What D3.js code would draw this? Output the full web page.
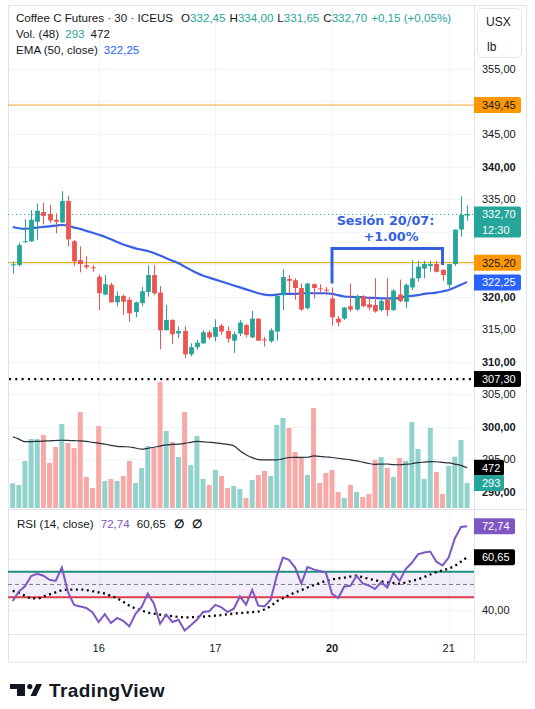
<!DOCTYPE html>
<html>
<head>
<meta charset="utf-8">
<script src="https://cdn.jsdelivr.net/npm/d3@7"></script>
<style>
  body { margin: 0; background: #fff; }
  svg { display: block; font-family: "Liberation Sans", Arial, sans-serif; }
</style>
</head>
<body>
<div id="chart"></div>
<script>
// ---- datos (velas de 30 min) ----
const opens  = [324.85,324.85,328.4,328.5,331.5,333.0,332.7,331.8,331.4,334.7,328.5,325.6,324.8,324.5,323.05,320.3,321.8,319.1,320.1,319.5,317.6,319.0,320.7,323.3,320.6,314.8,316.4,314.3,314.7,311.1,312.2,312.8,314.5,313.8,315.5,314.7,313.2,314.3,315.6,313.7,316.6,313.4,313.1,314.6,320.2,322.7,322.5,321.3,318.2,321.9,321.25,321.05,319.7,316.6,316.6,318.5,318.0,320.0,318.8,318.7,317.9,319.5,317.9,320.3,319.2,321.4,322.8,324.3,324.7,325.0,324.1,321.8,325.0,330.3,332.45];
const highs  = [325.4,328.3,331.9,333.3,334.3,334.4,334.1,332.8,336.2,335.5,328.7,327.7,326.2,324.8,323.4,323.3,322.1,320.8,320.3,319.9,319.2,321.5,324.8,324.8,321.6,318.7,316.5,315.4,315.4,312.8,313.3,314.8,314.8,316.5,315.8,315.4,314.6,316.4,315.8,317.8,316.6,313.8,315.1,320.2,324.2,323.3,322.8,322.0,322.1,322.0,321.9,321.5,321.4,317.0,318.4,322.0,320.3,320.2,320.0,322.8,319.7,322.8,321.1,322.6,322.0,325.6,325.5,325.5,325.5,325.5,324.2,325.0,330.3,335.4,334.0];
const lows   = [323.5,324.6,328.3,328.4,328.7,331.1,331.3,329.7,331.3,327.7,324.7,323.7,324.2,323.8,317.9,320.2,319.1,318.5,317.2,316.1,316.8,318.5,320.0,320.2,311.9,314.8,312.7,313.6,310.5,310.8,311.8,312.7,313.4,313.1,314.1,312.9,311.3,313.9,313.7,313.6,313.2,312.3,312.9,313.2,317.9,320.5,319.5,317.8,318.0,319.7,320.5,320.2,315.5,315.4,316.4,317.7,317.8,318.4,317.9,317.5,317.7,317.0,317.8,319.1,318.2,321.0,322.3,322.8,323.8,323.7,322.4,321.3,324.7,329.2,331.65];
const closes = [324.95,327.9,328.5,331.8,333.2,332.4,331.7,331.5,334.7,328.8,325.4,325.0,324.5,324.4,320.5,321.9,319.1,320.1,319.2,317.4,319.1,320.8,323.3,320.5,314.8,316.4,314.2,314.7,311.1,312.2,312.9,314.5,313.7,315.3,314.6,313.5,314.2,316.0,314.1,316.6,313.2,313.3,314.8,320.1,323.0,322.4,321.3,318.0,322.0,321.3,321.15,320.95,316.8,316.0,318.3,318.0,320.1,318.5,318.3,317.7,319.3,317.9,320.9,319.3,321.8,322.8,324.6,325.0,325.0,323.8,323.3,325.0,330.3,332.55,332.70];
const volumes = [290,270,551,809,809,856,528,715,985,762,703,1125,363,234,961,317,340,317,375,551,293,469,727,703,1477,903,774,598,1125,504,844,340,270,446,375,234,258,223,117,328,387,434,375,973,1055,938,656,586,387,1172,293,410,446,188,117,270,188,129,164,563,598,469,363,586,551,1008,692,340,938,422,164,492,602,797,293];
const volMa = [835,808,777,778,781,784,788,791,794,792,789,786,780,770,760,748,735,723,719,715,703,690,700,712,726,740,745,749,758,770,781,776,770,764,755,745,730,670,625,590,568,563,563,563,576,592,594,594,595,610,606,598,592,583,574,565,552,537,522,512,514,516,508,507,513,519,531,538,544,542,535,528,515,500,472];
const ema = [330.7,330.5,330.4,330.5,330.6,330.7,330.8,330.9,331.0,330.9,330.6,330.4,330.1,329.8,329.5,329.2,328.8,328.4,328.0,327.7,327.4,327.2,327.0,326.7,326.3,325.9,325.5,325.1,324.6,324.1,323.6,323.2,322.9,322.6,322.3,322.0,321.7,321.4,321.1,320.8,320.5,320.3,320.2,320.3,320.4,320.4,320.4,320.5,320.5,320.5,320.5,320.5,320.4,320.2,320.0,319.95,319.9,319.9,319.8,319.8,319.7,319.7,319.7,319.8,320.0,320.1,320.2,320.4,320.5,320.6,320.8,321.0,321.4,321.8,322.25];
const rsi = [43.5,47.2,49.3,53.3,54.2,53.4,51.8,51.4,56.6,47.0,42.0,41.4,40.8,39.0,35.3,38.4,34.9,36.9,35.8,33.6,38.5,41.2,46.4,42.5,34.6,38.2,35.3,36.2,32.0,34.0,36.2,39.2,39.5,42.0,41.0,39.2,40.5,45.3,42.1,47.9,41.7,41.4,44.0,53.3,60.5,59.6,56.6,50.3,56.8,55.9,55.3,54.7,46.3,44.7,49.2,49.5,53.4,50.4,49.6,48.2,50.9,48.8,54.4,51.4,56.0,58.5,61.8,62.5,62.9,58.9,57.4,60.5,68.0,72.5,72.74];
const rsiMa = [47.5,46.7,45.6,44.6,44.5,45.3,46.1,46.9,47.7,48.0,48.0,48.0,47.8,47.4,46.9,46.4,45.5,44.6,43.2,41.7,40.6,39.8,39.0,38.6,38.2,37.9,37.6,37.3,37.1,37.2,37.3,37.4,37.6,37.8,38.0,38.3,38.6,38.8,39.0,39.2,39.4,40.2,41.5,43.4,44.6,45.8,46.9,47.8,48.8,49.7,50.5,51.4,51.9,52.4,52.7,53.1,53.4,52.8,52.2,51.7,51.2,50.8,50.6,50.3,50.8,51.4,52.0,52.9,53.9,54.8,55.5,56.2,57.3,58.9,60.65];

const dayStarts = [14, 33, 52, 71];
const dayLabels = ["16", "17", "20", "21"];
// 350, 330 y 325 quedan tapados por las etiquetas de color
const priceTicks = [290,295,300,305,310,315,320,335,340,345,355];
const gridTicks = [295,300,305,310,315,320,325,330,335,340,345,350,355];
const rsiTicks = [40, 60];
const rsiBands = [55, 50, 45];

const lastPrice = 332.70, alertHigh = 349.45, alertLow = 325.20, stopLevel = 307.30;
const emaLast = 322.25, volLast = 293, volMaLast = 472, rsiLast = 72.74, rsiMaLast = 60.65;

// anotacion "Sesion 20/07"
const annoBars = [52, 70];
const annoPrices = [322.0, 327.4, 324.85];

// ---- layout ----
const W = 535, H = 709;
const L = 8, R = 474, AX = 526;
const mainTop = 6, mainBot = 509, rsiTop = 510, rsiBot = 634, bottom = 662;

const up = "#26a69a", down = "#ef5350";
const upVol = "#92d2cc", downVol = "#f7a9a7";

const x = d3.scaleLinear().domain([0, 74]).range([12.7, 467.1]);
const y = d3.scaleLinear().domain([290, 355]).range([491.5, 69]);
const yv = d3.scaleLinear().domain([0, 1477]).range([508, 382]);
const yr = d3.scaleLinear().domain([40, 80]).range([610, 507.8]);

const fmt = v => d3.format(".2f")(v).replace(".", ",");

const svg = d3.select("#chart").append("svg").attr("width", W).attr("height", H);
svg.append("rect").attr("width", W).attr("height", H).attr("fill", "#fff");

const defs = svg.append("defs");
defs.append("clipPath").attr("id", "clipMain").append("rect")
  .attr("x", L).attr("y", mainTop).attr("width", R - L).attr("height", mainBot - mainTop);
defs.append("clipPath").attr("id", "clipRsi").append("rect")
  .attr("x", L).attr("y", rsiTop).attr("width", R - L).attr("height", rsiBot - rsiTop);

// grid
const grid = svg.append("g").attr("stroke", "#f0f3fa").attr("stroke-width", 1);
gridTicks.forEach(p => {
  const yy = Math.round(y(p)) + 0.5;
  grid.append("line").attr("x1", L).attr("x2", R).attr("y1", yy).attr("y2", yy);
});
rsiTicks.forEach(v => {
  const yy = Math.round(yr(v)) + 0.5;
  grid.append("line").attr("x1", L).attr("x2", R).attr("y1", yy).attr("y2", yy);
});
dayStarts.forEach(i => {
  const xx = Math.round(x(i)) + 0.5;
  grid.append("line").attr("x1", xx).attr("x2", xx).attr("y1", mainTop).attr("y2", rsiBot);
});

// marco / separadores
const frame = svg.append("g").attr("stroke", "#e0e3eb").attr("fill", "none");
frame.append("rect").attr("x", L + 0.5).attr("y", mainTop - 0.5).attr("width", AX - L).attr("height", bottom - mainTop + 0.5);
frame.append("line").attr("x1", R + 0.5).attr("x2", R + 0.5).attr("y1", mainTop).attr("y2", bottom);
frame.append("line").attr("x1", L).attr("x2", AX).attr("y1", mainBot + 0.5).attr("y2", mainBot + 0.5);
frame.append("line").attr("x1", L).attr("x2", AX).attr("y1", rsiBot + 0.5).attr("y2", rsiBot + 0.5);

const main = svg.append("g").attr("clip-path", "url(#clipMain)");

// volumen
main.append("g").selectAll("rect").data(volumes).join("rect")
  .attr("x", (d, i) => x(i) - 2.5)
  .attr("width", 5)
  .attr("y", d => yv(d))
  .attr("height", d => yv(0) - yv(d))
  .attr("fill", (d, i) => closes[i] >= opens[i] ? upVol : downVol);

main.append("path").datum(volMa)
  .attr("fill", "none").attr("stroke", "#2a2e39").attr("stroke-width", 1.2)
  .attr("d", d3.line().x((d, i) => x(i)).y(d => yv(d)).curve(d3.curveMonotoneX));

// lineas horizontales
main.append("line").attr("x1", L).attr("x2", R).attr("y1", y(alertHigh)).attr("y2", y(alertHigh))
  .attr("stroke", "#f5a431").attr("stroke-width", 1);
main.append("line").attr("x1", L).attr("x2", R).attr("y1", y(alertLow)).attr("y2", y(alertLow))
  .attr("stroke", "#e5b52a").attr("stroke-width", 1.3);
main.append("line").attr("x1", L).attr("x2", R).attr("y1", Math.round(y(lastPrice)) + 0.5).attr("y2", Math.round(y(lastPrice)) + 0.5)
  .attr("stroke", up).attr("stroke-width", 1).attr("stroke-dasharray", "1,3");
main.append("line").attr("x1", L + 1).attr("x2", R).attr("y1", y(stopLevel)).attr("y2", y(stopLevel))
  .attr("stroke", "#000").attr("stroke-width", 2.2).attr("stroke-dasharray", "2,4.3");

// EMA
main.append("path").datum(ema)
  .attr("fill", "none").attr("stroke", "#3861e8").attr("stroke-width", 2.2)
  .attr("d", d3.line().x((d, i) => x(i)).y(d => y(d)).curve(d3.curveMonotoneX));

// velas
const candles = main.append("g").selectAll("g").data(opens).join("g")
  .attr("fill", (d, i) => closes[i] >= opens[i] ? up : down)
  .attr("stroke", (d, i) => closes[i] >= opens[i] ? up : down);
candles.append("line")
  .attr("x1", (d, i) => Math.round(x(i)) + 0.5).attr("x2", (d, i) => Math.round(x(i)) + 0.5)
  .attr("y1", (d, i) => y(highs[i])).attr("y2", (d, i) => y(lows[i]))
  .attr("stroke-width", 1);
candles.append("rect")
  .attr("stroke", "none")
  .attr("x", (d, i) => Math.round(x(i)) + 0.5 - 2.4)
  .attr("width", 4.8)
  .attr("y", (d, i) => y(Math.max(opens[i], closes[i])))
  .attr("height", (d, i) => Math.max(1, Math.abs(y(opens[i]) - y(closes[i]))));

// anotacion
const ax1 = x(annoBars[0]), ax2 = x(annoBars[1]);
main.append("path")
  .attr("d", `M${ax1},${y(annoPrices[0])}V${y(annoPrices[1])}H${ax2}V${y(annoPrices[2])}`)
  .attr("fill", "none").attr("stroke", "#3461e0").attr("stroke-width", 3);
const anno = main.append("g").attr("fill", "#3461e0")
  .attr("font-family", "'DejaVu Sans', Verdana, sans-serif").attr("font-weight", "bold")
  .attr("font-size", 12.8).attr("text-anchor", "middle");
anno.append("text").attr("x", 385.5).attr("y", 225).text("Sesión 20/07:");
anno.append("text").attr("x", 391).attr("y", 241).text("+1.00%");

// cabecera
const head = svg.append("g").attr("font-size", 11.6).attr("fill", "#131722");
const t1 = head.append("text").attr("x", 16).attr("y", 21.5);
t1.append("tspan").text("Coffee C Futures · 30 · ICEUS");
[["O", "332,45"], ["H", "334,00"], ["L", "331,65"], ["C", "332,70"]].forEach((p, k) => {
  t1.append("tspan").attr("dx", k === 0 ? 8 : 4).text(p[0]);
  t1.append("tspan").attr("fill", up).text(p[1]);
});
t1.append("tspan").attr("dx", 4).attr("fill", up).text("+0,15 (+0,05%)");
const t2 = head.append("text").attr("x", 16).attr("y", 37.5);
t2.append("tspan").text("Vol. (48)");
t2.append("tspan").attr("dx", 6).attr("fill", up).text(volLast);
t2.append("tspan").attr("dx", 6).text(volMaLast);
const t3 = head.append("text").attr("x", 16).attr("y", 53.5);
t3.append("tspan").text("EMA (50, close)");
t3.append("tspan").attr("dx", 6).attr("fill", "#2962ff").text(fmt(emaLast));

// eje de precios
const axisG = svg.append("g").attr("font-size", 11).attr("fill", "#131722");
axisG.append("rect").attr("x", 477.5).attr("y", 8.5).attr("width", 44).attr("height", 49).attr("rx", 5)
  .attr("fill", "#fff").attr("stroke", "#e0e3eb");
axisG.append("text").attr("x", 486).attr("y", 25.5).attr("font-size", 12).text("USX");
axisG.append("text").attr("x", 487).attr("y", 50.5).attr("font-size", 12).text("lb");
priceTicks.forEach(p => {
  axisG.append("text").attr("x", 482).attr("y", y(p) + 4)
    .attr("font-weight", p % 10 === 0 ? "bold" : "normal").text(fmt(p));
});

function tag(g, yy, w, h, bg, fg, lines) {
  g.append("path")
    .attr("d", `M${R},${yy - h / 2}H${R + w - 2}a2,2 0 0 1 2,2V${yy + h / 2 - 2}a2,2 0 0 1 -2,2H${R}Z`)
    .attr("fill", bg);
  lines.forEach((s, k) => {
    g.append("text").attr("x", 482).attr("y", yy - h / 2 + 12 + k * 15.5).attr("fill", fg).text(s);
  });
}
tag(axisG, y(alertHigh), 47, 16, "#ff9800", "#131722", [fmt(alertHigh)]);
tag(axisG, y(lastPrice) + 8, 47, 31, up, "#fff", [fmt(lastPrice), "12:30"]);
tag(axisG, y(alertLow), 47, 16, "#ff9800", "#131722", [fmt(alertLow)]);
tag(axisG, y(emaLast) + 0.5, 47, 16, "#2962ff", "#fff", [fmt(emaLast)]);
tag(axisG, y(stopLevel), 47, 16, "#000", "#fff", [fmt(stopLevel)]);
tag(axisG, yv(volMaLast), 30, 16, "#000", "#fff", [String(volMaLast)]);
tag(axisG, yv(volLast), 30, 16, up, "#fff", [String(volLast)]);

// panel RSI
const rsiG = svg.append("g").attr("clip-path", "url(#clipRsi)");
rsiG.append("rect").attr("x", L).attr("width", R - L)
  .attr("y", yr(rsiBands[0])).attr("height", yr(rsiBands[2]) - yr(rsiBands[0]))
  .attr("fill", "#7e57c2").attr("fill-opacity", 0.1);
rsiG.append("line").attr("x1", L).attr("x2", R).attr("y1", yr(rsiBands[1])).attr("y2", yr(rsiBands[1]))
  .attr("stroke", "#787b86").attr("stroke-dasharray", "4,3");
rsiG.append("line").attr("x1", L).attr("x2", R).attr("y1", yr(rsiBands[0])).attr("y2", yr(rsiBands[0]))
  .attr("stroke", "#1e8e7e").attr("stroke-width", 2);
rsiG.append("line").attr("x1", L).attr("x2", R).attr("y1", yr(rsiBands[2])).attr("y2", yr(rsiBands[2]))
  .attr("stroke", "#e03a4b").attr("stroke-width", 2);
rsiG.append("path").datum(rsiMa)
  .attr("fill", "none").attr("stroke", "#000").attr("stroke-width", 2.3).attr("stroke-dasharray", "2,3.5")
  .attr("d", d3.line().x((d, i) => x(i)).y(d => yr(d)).curve(d3.curveMonotoneX));
rsiG.append("path").datum(rsi)
  .attr("fill", "none").attr("stroke", "#7e57c2").attr("stroke-width", 2)
  .attr("d", d3.line().x((d, i) => x(i)).y(d => yr(d)));

const rsiHead = svg.append("text").attr("x", 17).attr("y", 528).attr("font-size", 11.6).attr("fill", "#131722");
rsiHead.append("tspan").text("RSI (14, close)");
rsiHead.append("tspan").attr("dx", 7).attr("fill", "#7e57c2").text(fmt(rsiLast));
rsiHead.append("tspan").attr("dx", 7).text(fmt(rsiMaLast));
rsiHead.append("tspan").attr("dx", 8).attr("font-weight", "bold").text("∅");
rsiHead.append("tspan").attr("dx", 8).attr("font-weight", "bold").text("∅");

axisG.append("text").attr("x", 482).attr("y", yr(40) + 4).text(fmt(40));
tag(axisG, yr(rsiLast), 41, 16, "#7e57c2", "#fff", [fmt(rsiLast)]);
tag(axisG, yr(rsiMaLast), 41, 16, "#000", "#fff", [fmt(rsiMaLast)]);

// eje de tiempo
svg.append("g").attr("font-size", 11).attr("fill", "#131722").attr("text-anchor", "middle")
  .selectAll("text").data(dayStarts).join("text")
  .attr("x", d => x(d)).attr("y", 652)
  .attr("font-weight", (d, k) => dayLabels[k] === "20" ? "bold" : "normal")
  .text((d, k) => dayLabels[k]);

// logo
const logo = svg.append("g").attr("fill", "#131722");
logo.append("path").attr("d", "M10,684H25V696H17V689H10Z");
logo.append("circle").attr("cx", 29.8).attr("cy", 686.6).attr("r", 2.6);
logo.append("path").attr("d", "M30.5,696L36.3,684H42L36.2,696Z");
logo.append("text").attr("x", 49).attr("y", 696.5).attr("font-size", 19).attr("font-weight", "bold")
  .attr("letter-spacing", 0.4).text("TradingView");
</script>
</body>
</html>
